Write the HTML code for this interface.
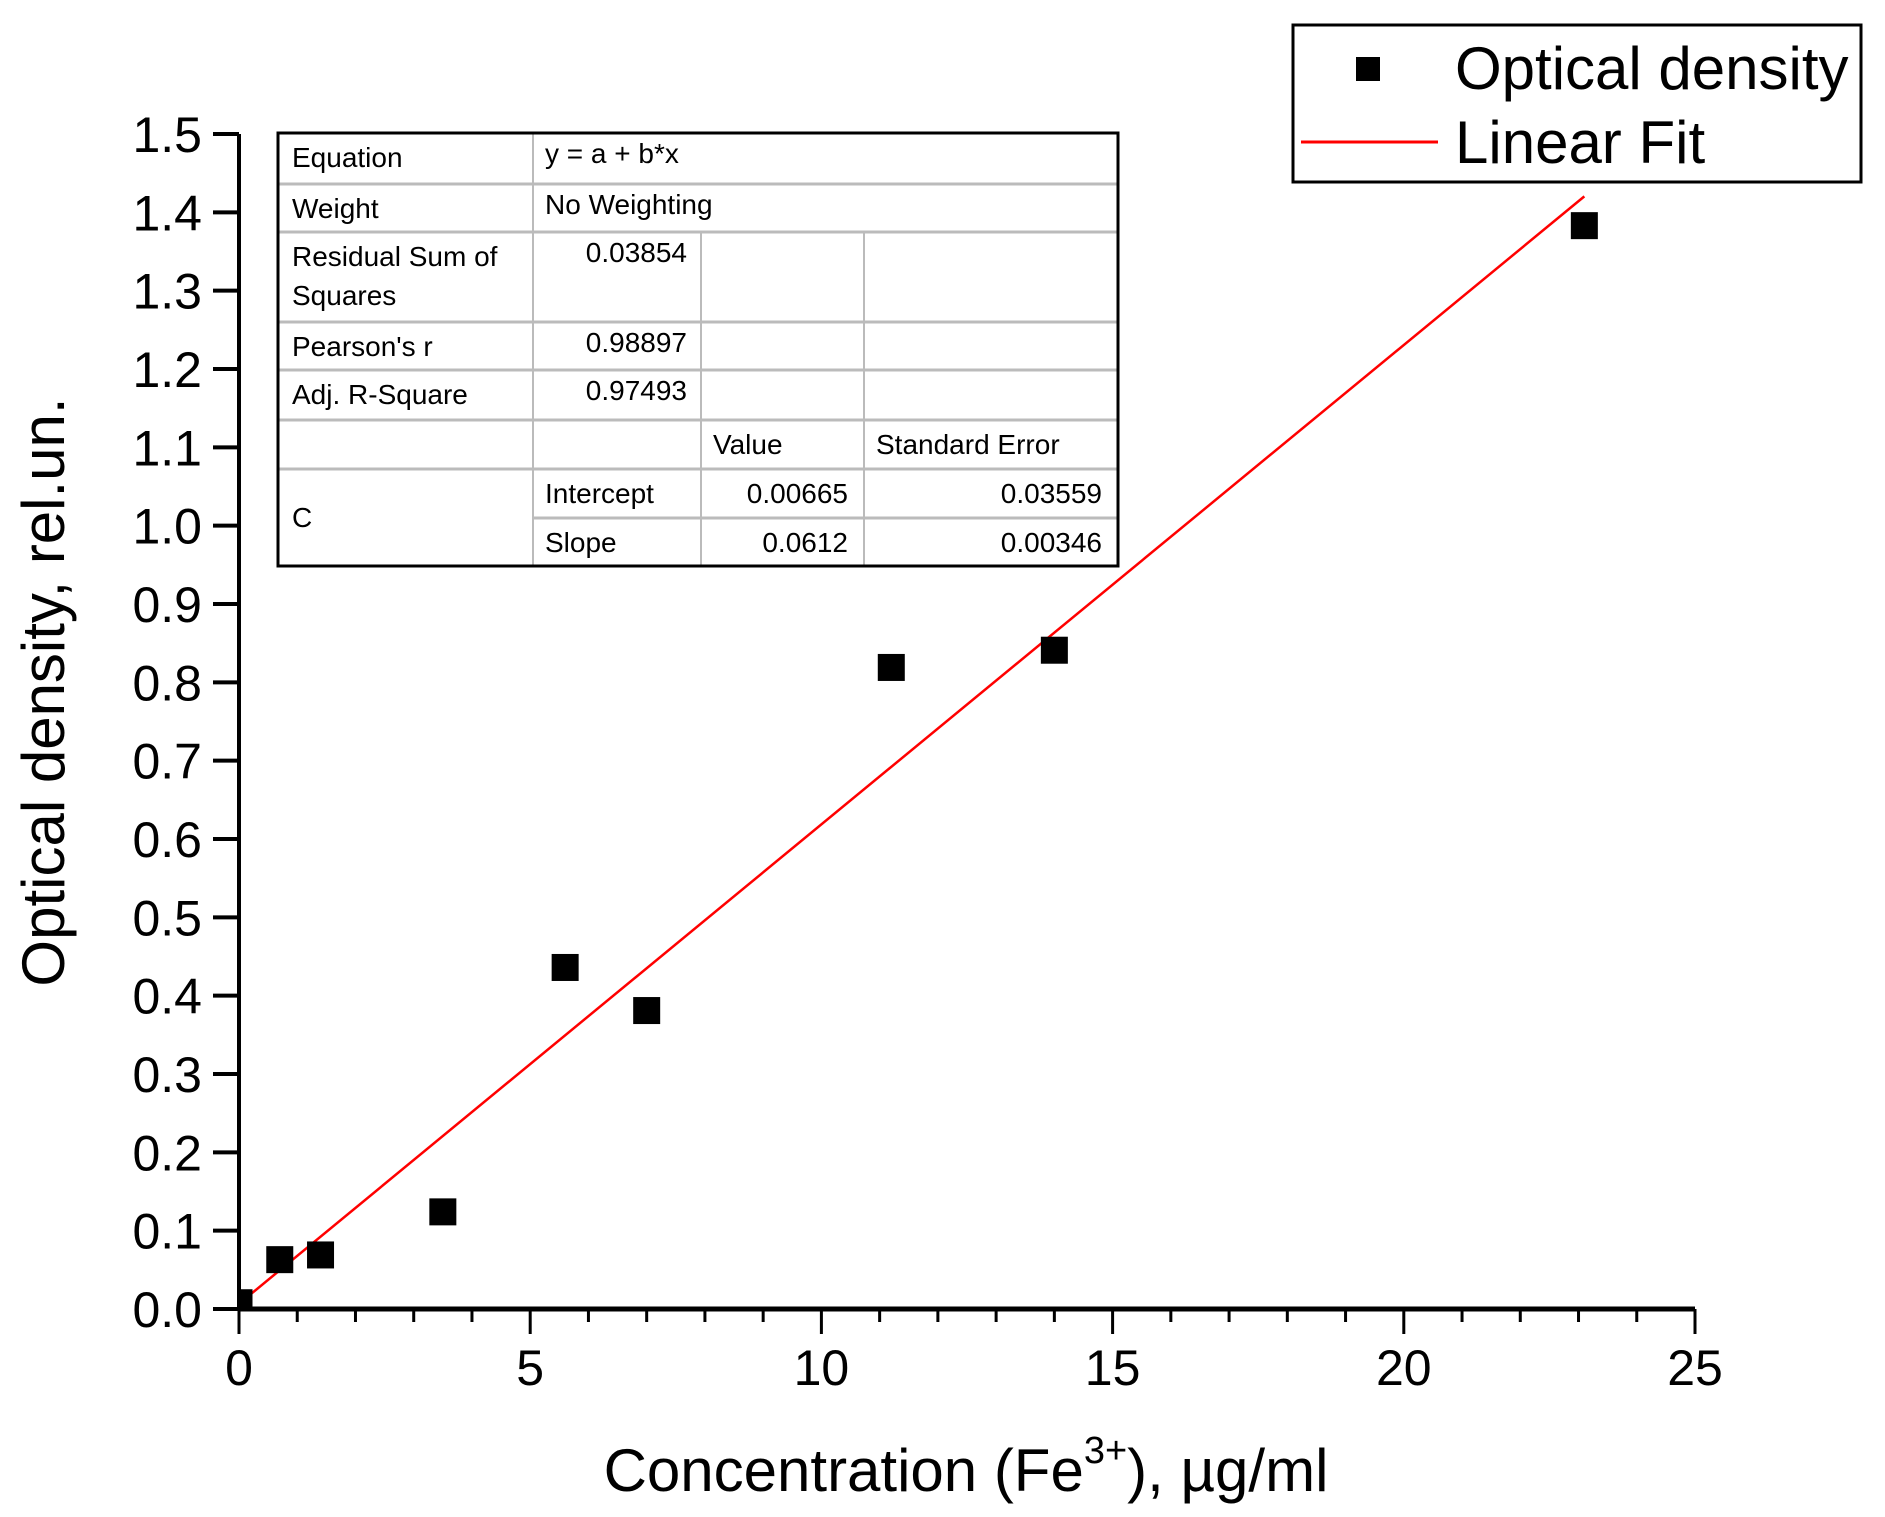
<!DOCTYPE html>
<html><head><meta charset="utf-8"><style>
html,body{margin:0;padding:0;background:#fff;}
svg{display:block;font-family:"Liberation Sans",Arial,sans-serif;}
</style></head><body>
<svg id="chart" width="1885" height="1517" viewBox="0 0 1885 1517">
<defs><clipPath id="plotclip"><rect x="239" y="100" width="1470" height="1209"/></clipPath></defs>
<g id="marks" clip-path="url(#plotclip)"></g>
<g id="axes"></g>
<g id="table"></g>
<g>
 <rect x="1293" y="25" width="568" height="157" fill="#fff" stroke="#000" stroke-width="3"/>
 <rect x="1356" y="57" width="24" height="24" fill="#000"/>
 <text x="1455" y="89" font-size="60">Optical density</text>
 <line x1="1301" y1="142" x2="1438" y2="142" stroke="#f00" stroke-width="3"/>
 <text x="1455" y="163" font-size="60">Linear Fit</text>
</g>
<text x="966" y="1491" font-size="60" text-anchor="middle">Concentration (Fe<tspan dy="-28" font-size="38">3+</tspan><tspan dy="28">), µg/ml</tspan></text>
<text transform="translate(64,692) rotate(-90)" font-size="60" text-anchor="middle">Optical density, rel.un.</text>
</svg>
<script>
const xs = [0, 0.7, 1.4, 3.5, 5.6, 7.0, 11.2, 14.0, 23.1];
const ys = [0.008, 0.063, 0.069, 0.124, 0.436, 0.381, 0.819, 0.841, 1.383];
const fitA = 0.00665;
const fitB = 0.0612;
const xTicks = [0, 5, 10, 15, 20, 25];
const yTicks = ["0.0","0.1","0.2","0.3","0.4","0.5","0.6","0.7","0.8","0.9","1.0","1.1","1.2","1.3","1.4","1.5"];
const tableRows = [
 ["Equation","y = a + b*x"],["Weight","No Weighting"],["Residual Sum of|Squares","0.03854"],
 ["Pearson's r","0.98897"],["Adj. R-Square","0.97493"]
];
const NS="http://www.w3.org/2000/svg";
const X0=239,X1=1695,Y0=1309,Y1=134;
function sx(v){return X0+(v/25)*(X1-X0);}
function sy(v){return Y0-(v/1.5)*(Y0-Y1);}
function mk(tag,attrs,parent,txt){const e=document.createElementNS(NS,tag);for(const k in attrs)e.setAttribute(k,attrs[k]);if(txt!==undefined)e.textContent=txt;parent.appendChild(e);return e;}
const ax=document.getElementById('axes');
let e;
e=mk('line',{x1:X0,y1:Y0,x2:X1,y2:Y0,stroke:'#000','stroke-width':5},ax);


e=mk('line',{x1:X0,y1:Y0+2,x2:X0,y2:Y1,stroke:'#000','stroke-width':4},ax);


for(let i=0;i<=25;i++){
 const major=i%5===0;
 e=mk('line',{x1:sx(i),y1:Y0,x2:sx(i),y2:Y0+(major?25:13),stroke:'#000','stroke-width':3},ax);
 
 
}
xTicks.forEach(v=>{
 e=mk('text',{x:sx(v),y:1385,'font-size':50,'text-anchor':'middle'},ax,String(v));
 
 
});
yTicks.forEach(t=>{
 const v=parseFloat(t);
 e=mk('line',{x1:X0-26,y1:sy(v),x2:X0,y2:sy(v),stroke:'#000','stroke-width':4},ax);
 
 
 e=mk('text',{x:202,y:sy(v)+18,'font-size':50,'text-anchor':'end'},ax,t);
 
 
});
const mg=document.getElementById('marks');
const xmax=Math.max(...xs);
e=mk('line',{x1:sx(0),y1:sy(fitA),x2:sx(xmax),y2:sy(fitA+fitB*xmax),stroke:'#f00','stroke-width':2.5},mg);


xs.forEach((x,i)=>{
 e=mk('rect',{x:sx(x)-13.5,y:sy(ys[i])-13.5,width:27,height:27,fill:'#000'},mg);
 
 
});
// table
const tb=document.getElementById('table');
const C=[278,533,701,864,1118], R=[133,184,232,322,370,420,469,518,566];
const G='#bbb';
function ln(x1,y1,x2,y2,c,w){const l=mk('line',{x1,y1,x2,y2,stroke:c,'stroke-width':w},tb);}
mk('rect',{x:C[0],y:R[0],width:C[4]-C[0],height:R[8]-R[0],fill:'#fff'},tb);
for(let i=1;i<8;i++){ln(i===7?C[1]:C[0],R[i],C[4],R[i],G,3);}
ln(C[1],R[0],C[1],R[8],G,2);
ln(C[2],R[2],C[2],R[8],G,2);
ln(C[3],R[2],C[3],R[8],G,2);
e=mk('rect',{x:C[0],y:R[0],width:C[4]-C[0],height:R[8]-R[0],fill:'none',stroke:'#000','stroke-width':3},tb);


function tx(x,y,s,anchor){const t=mk('text',{x,y,'font-size':28,'text-anchor':anchor||'start'},tb,s);}
tableRows.forEach((r,i)=>{
 const parts=r[0].split('|');
 tx(C[0]+14,R[i]+34,parts[0]);
 if(parts[1])tx(C[0]+14,R[i]+73,parts[1]);
 if(i<2)tx(C[1]+12,R[i]+30,r[1]);
 else tx(C[2]-14,R[i]+30,r[1],'end');
});
tx(C[2]+12,R[5]+34,"Value");
tx(C[3]+12,R[5]+34,"Standard Error");
tx(C[0]+14,R[6]+58,"C");
tx(C[1]+12,R[6]+34,"Intercept");
tx(C[3]-16,R[6]+34,fitA.toFixed(5),'end');
tx(C[4]-16,R[6]+34,"0.03559",'end');
tx(C[1]+12,R[7]+34,"Slope");
tx(C[3]-16,R[7]+34,String(fitB),'end');
tx(C[4]-16,R[7]+34,"0.00346",'end');
</script>
</body></html>
